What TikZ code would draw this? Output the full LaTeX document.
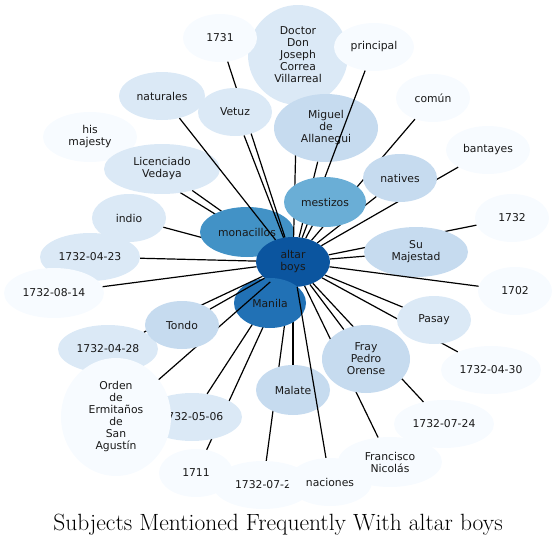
\documentclass[tikz,border=0pt]{standalone}
\usepackage{fontspec}
\usetikzlibrary{shapes.geometric}
\newfontfamily\labelfont{DejaVu Sans}
\definecolor{blueA}{HTML}{0B559F}
\definecolor{blueB}{HTML}{2171B5}
\definecolor{blueC}{HTML}{4292C6}
\definecolor{blueD}{HTML}{6AAED6}
\definecolor{blueE}{HTML}{C6DBEF}
\definecolor{blueF}{HTML}{DBE9F6}
\definecolor{blueG}{HTML}{F7FBFF}
\pgfdeclarelayer{lower}
\pgfsetlayers{lower,main}

\begin{document}
\begin{tikzpicture}[
  x=1pt, y=-1pt,
  topic/.style={ellipse, inner sep=0pt, align=center, text=black!90,
    font=\labelfont\fontsize{10.8}{12}\selectfont},
  small/.style={minimum width=74pt, minimum height=48pt},
  date/.style={minimum width=100pt, minimum height=48pt},
  link/.style={draw=black, line width=1.2pt},
]
\useasboundingbox (0,0) rectangle (557,546);

\node[topic, fill=blueA, minimum width=74pt, minimum height=50pt] (altar) at (293,262) {altar\\boys};

\begin{pgfonlayer}{lower}
\node[topic, fill=blueG, minimum width=94pt, minimum height=50pt] (hismaj) at (90,137) {his\\majesty};
\draw[link] (hismaj) -- (altar);
\node[topic, fill=blueF, minimum width=116pt, minimum height=50pt] (licen) at (162,169) {Licenciado\\Vedaya};
\draw[link] (licen) -- (altar);
\node[topic, small, fill=blueF] (indio) at (129,218) {indio};
\draw[link] (indio) -- (altar);
\node[topic, fill=blueC, minimum width=94pt, minimum height=50pt] (monac) at (247,232) {monacillos};
\end{pgfonlayer}

% top
\node[topic, fill=blueF, minimum width=100pt, minimum height=100pt] (doctor) at (298,55) {Doctor\\Don\\Joseph\\Correa\\Villarreal};
\draw[link] (doctor) -- (altar);
\node[topic, fill=blueE, minimum width=104pt, minimum height=68pt] (miguel) at (326,128) {Miguel\\de\\Allanegui};
\draw[link] (miguel) -- (altar);
\node[topic, fill=blueG, minimum width=80pt, minimum height=48pt] (princ) at (374,47) {principal};
\draw[link] (princ) -- (altar);
\node[topic, small, fill=blueG] (comun) at (433,98) {común};
\draw[link] (comun) -- (altar);
\node[topic, fill=blueG, minimum width=84pt, minimum height=48pt] (bantay) at (488,150) {bantayes};
\draw[link] (bantay) -- (altar);
\node[topic, small, fill=blueE] (natives) at (400,178) {natives};
\draw[link] (natives) -- (altar);
\node[topic, fill=blueD, minimum width=82pt, minimum height=50pt] (mestiz) at (325,202) {mestizos};
\draw[link] (mestiz) -- (altar);

\node[topic, small, fill=blueG] (y1731) at (220,38) {1731};
\draw[link] (y1731) -- (altar);
\node[topic, small, fill=blueF] (vetuz) at (235,112) {Vetuz};
\draw[link] (vetuz) -- (altar);
\node[topic, fill=blueF, minimum width=86pt, minimum height=48pt] (natur) at (162,96) {naturales};
\draw[link] (natur) -- (altar);

% right
\node[topic, small, fill=blueG] (y1732) at (512,218) {1732};
\draw[link] (y1732) -- (altar);
\node[topic, fill=blueE, minimum width=104pt, minimum height=50pt] (sumaj) at (416,252) {Su\\Majestad};
\draw[link] (sumaj) -- (altar);
\node[topic, small, fill=blueG] (y1702) at (515,291) {1702};
\draw[link] (y1702) -- (altar);
\node[topic, date, fill=blueG] (d0430) at (491,370) {1732-04-30};
\draw[link] (d0430) -- (altar);
\node[topic, small, fill=blueF] (pasay) at (434,320) {Pasay};
\draw[link] (pasay) -- (altar);
\node[topic, date, fill=blueG] (d0724) at (444,424) {1732-07-24};
\draw[link] (d0724) -- (altar);

% left
\node[topic, date, fill=blueF] (d0423) at (90,257) {1732-04-23};
\draw[link] (d0423) -- (altar);
\node[topic, fill=blueG, minimum width=100pt, minimum height=50pt] (d0814) at (54,293) {1732-08-14};
\draw[link] (d0814) -- (altar);

% bottom
\node[topic, small, fill=blueG] (y1711) at (196,473) {1711};
\draw[link] (y1711) -- (altar);
\node[topic, date, fill=blueF] (d0506) at (192,417) {1732-05-06};
\draw[link] (d0506) -- (altar);
\node[topic, date, fill=blueG] (d072) at (263,485) {1732-07-2};
\draw[link] (d072) -- (altar);
\node[topic, fill=blueE, minimum width=74pt, minimum height=50pt] (malate) at (293,390) {Malate};
\draw[link] (malate) -- (altar);
\node[topic, fill=blueG, minimum width=84pt, minimum height=48pt] (nacion) at (330,482) {naciones};
\node[topic, fill=blueG, minimum width=104pt, minimum height=50pt] (franc) at (390,462) {Francisco\\Nicolás};
\draw[link] (franc) -- (altar);
\node[topic, fill=blueE, minimum width=88pt, minimum height=68pt] (fray) at (366,359) {Fray\\Pedro\\Orense};
\draw[link] (fray) -- (altar);

\node[topic, fill=blueB, minimum width=72pt, minimum height=50pt] (manila) at (270,303) {Manila};
\draw[link] (nacion) -- (altar);
\node[topic, date, fill=blueF] (d0428) at (108,349) {1732-04-28};
\draw[link] (d0428) -- (altar);
\node[topic, fill=blueG, minimum width=110pt, minimum height=118pt] (orden) at (116,417) {Orden\\de\\Ermitaños\\de\\San\\Agustín};
\draw[link] (orden) -- (altar);
\node[topic, small, fill=blueE] (tondo) at (182,325) {Tondo};
\draw[link] (tondo) -- (altar);

\node[font=\fontsize{23.5}{28}\selectfont] (title) at (278,525) {Subjects Mentioned Frequently With altar boys};
\end{tikzpicture}
\end{document}
